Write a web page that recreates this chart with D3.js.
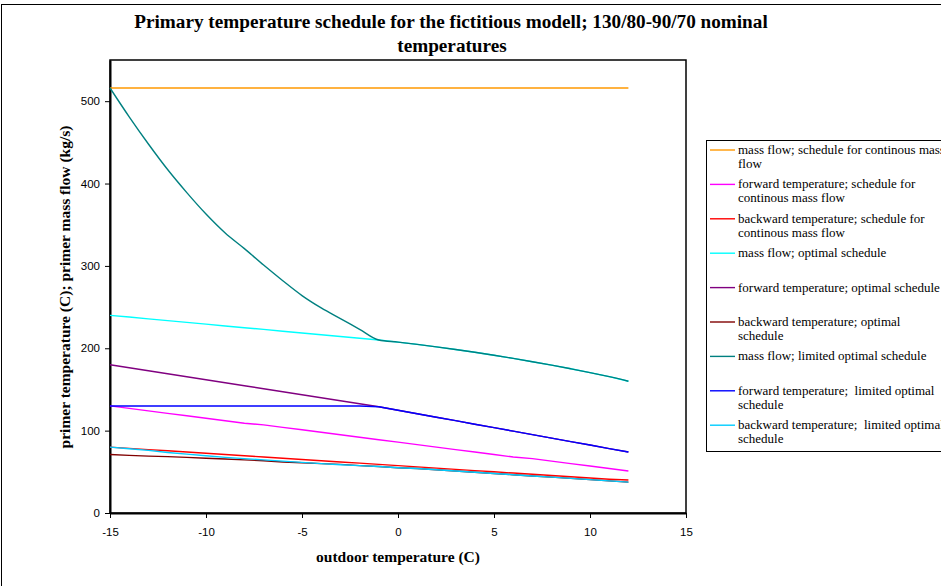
<!DOCTYPE html>
<html lang="en">
<head>
<meta charset="UTF-8">
<title>Primary temperature schedule</title>
<script src="https://cdn.jsdelivr.net/npm/d3@7"></script>
<style>
  body { margin: 0; background: #fff; }
  svg { display: block; }
</style>
</head>
<body>
<script>
// outdoor temperatures (C)
const temps = [-15, -14, -13, -12, -11, -10, -9, -8, -7, -6, -5, -4, -3, -2, -1,
               0, 1, 2, 3, 4, 5, 6, 7, 8, 9, 10, 11, 12];

// values
const massContinuous = [516, 516, 516, 516, 516, 516, 516, 516, 516, 516, 516, 516, 516, 516, 516,
                        516, 516, 516, 516, 516, 516, 516, 516, 516, 516, 516, 516, 516];
const fwdContinuous = [130, 127, 124, 121, 118, 115, 112, 109, 107, 104, 101, 98, 95, 92, 89,
                       86, 83, 80, 77, 74, 71, 68, 66, 63, 60, 57, 54, 51];
const backContinuous = [80, 78.5, 77, 75.5, 74, 72.5, 71, 69.5, 68, 66.5, 65, 63.5, 62, 60.5, 59,
                        57.5, 56, 54.5, 53, 51.5, 50, 48.5, 47, 45.5, 44, 42.5, 41, 40];
const massOptimal = [240, 237.9, 235.7, 233.6, 231.4, 229.3, 227.1, 225, 222.9, 220.7, 218.6, 216.4, 214.3, 212.1, 210,
                     207.5, 204.7, 201.7, 198.5, 195.1, 191.5, 187.7, 183.7, 179.5, 175.1, 170.5, 165.5, 160];
const fwdOptimal = [180, 176.4, 172.7, 169.1, 165.4, 161.8, 158.1, 154.5, 150.9, 147.2, 143.6, 139.9, 136.3, 132.6, 129,
                    124.8, 120.5, 116.3, 112.1, 107.8, 103.6, 99.4, 95.2, 90.9, 86.7, 82.5, 78.2, 74];
const backOptimal = [71, 70, 69, 68.5, 67.5, 66.5, 65.5, 64.5, 63.5, 62, 61, 60, 59, 57.5, 56.5,
                     55, 54, 52.5, 51, 49.5, 48, 46.5, 45, 43.5, 42, 40.5, 39, 37.5];
const massLimited = [516, 481, 448, 417, 389, 363, 340, 321, 301, 282, 264, 249, 236, 223, 210,
                     207.5, 204.7, 201.7, 198.5, 195.1, 191.5, 187.7, 183.7, 179.5, 175.1, 170.5, 165.5, 160];
const fwdLimited = [130, 130, 130, 130, 130, 130, 130, 130, 130, 130, 130, 130, 130, 130, 129,
                    124.8, 120.5, 116.3, 112.1, 107.8, 103.6, 99.4, 95.2, 90.9, 86.7, 82.5, 78.2, 74];
const backLimited = [80, 78, 76, 73.5, 71.5, 69.5, 67.5, 66, 64.5, 63, 61.5, 60, 58.5, 57.5, 56.5,
                     55, 54, 52.5, 51, 49.5, 48, 46.5, 45, 43.5, 42, 40.5, 39, 37.5];

const seriesLabels = [
  "mass flow; schedule for continous mass\nflow",
  "forward temperature; schedule for\ncontinous mass flow",
  "backward temperature; schedule for\ncontinous mass flow",
  "mass flow; optimal schedule",
  "forward temperature; optimal schedule",
  "backward temperature; optimal\nschedule",
  "mass flow; limited optimal schedule",
  "forward temperature;  limited optimal\nschedule",
  "backward temperature;  limited optimal\nschedule"
];
const seriesValues = [massContinuous, fwdContinuous, backContinuous, massOptimal, fwdOptimal,
                      backOptimal, massLimited, fwdLimited, backLimited];
const seriesColors = ["#FF9900", "#FF00FF", "#FF0000", "#00FFFF", "#800080",
                      "#800000", "#008080", "#0000FF", "#00CCFF"];

const xTicks = [-15, -10, -5, 0, 5, 10, 15];
const yTicks = [0, 100, 200, 300, 400, 500];

const width = 941, height = 586;
const plot = { left: 110, right: 686, top: 60, bottom: 513 };

const svg = d3.select("body").append("svg")
    .attr("width", width)
    .attr("height", height);

// outer chart frame
svg.append("rect")
    .attr("x", 1.5).attr("y", 4.5)
    .attr("width", width + 20).attr("height", height + 20)
    .attr("fill", "#fff").attr("stroke", "#000").attr("stroke-width", 1);

const x = d3.scaleLinear().domain([-15, 15]).range([plot.left, plot.right]);
const y = d3.scaleLinear().domain([0, 550]).range([plot.bottom, plot.top]);

// plot area border
svg.append("rect")
    .attr("x", plot.left).attr("y", plot.top)
    .attr("width", plot.right - plot.left).attr("height", plot.bottom - plot.top)
    .attr("fill", "none").attr("stroke", "#000").attr("stroke-width", 1.5);

// axes
const xAxis = svg.append("g")
    .attr("transform", `translate(0,${plot.bottom})`)
    .call(d3.axisBottom(x).tickValues(xTicks).tickFormat(d => String(d))
      .tickSize(5).tickSizeOuter(0).tickPadding(10));
const yAxis = svg.append("g")
    .attr("transform", `translate(${plot.left},0)`)
    .call(d3.axisLeft(y).tickValues(yTicks).tickFormat(d => String(d))
      .tickSize(5).tickSizeOuter(0).tickPadding(5));
[xAxis, yAxis].forEach(a => {
  a.select(".domain").attr("stroke-width", 2);
  a.selectAll("text").attr("font-family", "Liberation Sans, Arial, sans-serif")
    .attr("font-size", 11.5).attr("fill", "#000");
});

// series lines; the limited mass flow is a smooth curve
const line = d3.line()
    .x((d, i) => x(temps[i]))
    .y(d => y(d));
const curvedLine = d3.line()
    .x((d, i) => x(temps[i]))
    .y(d => y(d))
    .curve(d3.curveMonotoneX);

svg.append("g")
  .selectAll("path")
  .data(seriesValues)
  .join("path")
    .attr("d", d => d === massLimited ? curvedLine(d) : line(d))
    .attr("fill", "none")
    .attr("stroke", (d, i) => seriesColors[i])
    .attr("stroke-width", 1.4);

// titles
const serif = "Liberation Serif, Times New Roman, serif";
svg.append("text")
    .attr("x", 451).attr("y", 28)
    .attr("text-anchor", "middle")
    .attr("font-family", serif).attr("font-weight", "bold").attr("font-size", 19.2)
    .text("Primary temperature schedule for the fictitious modell; 130/80-90/70 nominal");
svg.append("text")
    .attr("x", 452).attr("y", 52)
    .attr("text-anchor", "middle")
    .attr("font-family", serif).attr("font-weight", "bold").attr("font-size", 19.2)
    .text("temperatures");

svg.append("text")
    .attr("x", 398).attr("y", 562)
    .attr("text-anchor", "middle")
    .attr("font-family", serif).attr("font-weight", "bold").attr("font-size", 15.5)
    .text("outdoor temperature (C)");

svg.append("text")
    .attr("transform", "translate(70,287) rotate(-90)")
    .attr("text-anchor", "middle")
    .attr("font-family", serif).attr("font-weight", "bold").attr("font-size", 15.5)
    .text("primer temperature (C); primer mass flow (kg/s)");

// legend
const legend = svg.append("g");
legend.append("rect")
    .attr("x", 706.5).attr("y", 140.5)
    .attr("width", 260).attr("height", 311)
    .attr("fill", "#fff").attr("stroke", "#000").attr("stroke-width", 1);

const item = legend.selectAll("g.item")
  .data(seriesLabels)
  .join("g")
    .attr("class", "item")
    .attr("transform", (d, i) => `translate(0,${150 + i * 34.4})`);

item.append("line")
    .attr("x1", 710).attr("x2", 735)
    .attr("y1", 0).attr("y2", 0)
    .attr("stroke", (d, i) => seriesColors[i])
    .attr("stroke-width", 1.4);

item.append("text")
    .attr("font-family", serif).attr("font-size", 13)
    .attr("fill", "#000")
  .selectAll("tspan")
  .data(d => d.split("\n"))
  .join("tspan")
    .attr("x", 738)
    .attr("y", (d, i) => 4 + i * 14)
    .style("white-space", "pre")
    .text(d => d);
</script>
</body>
</html>
